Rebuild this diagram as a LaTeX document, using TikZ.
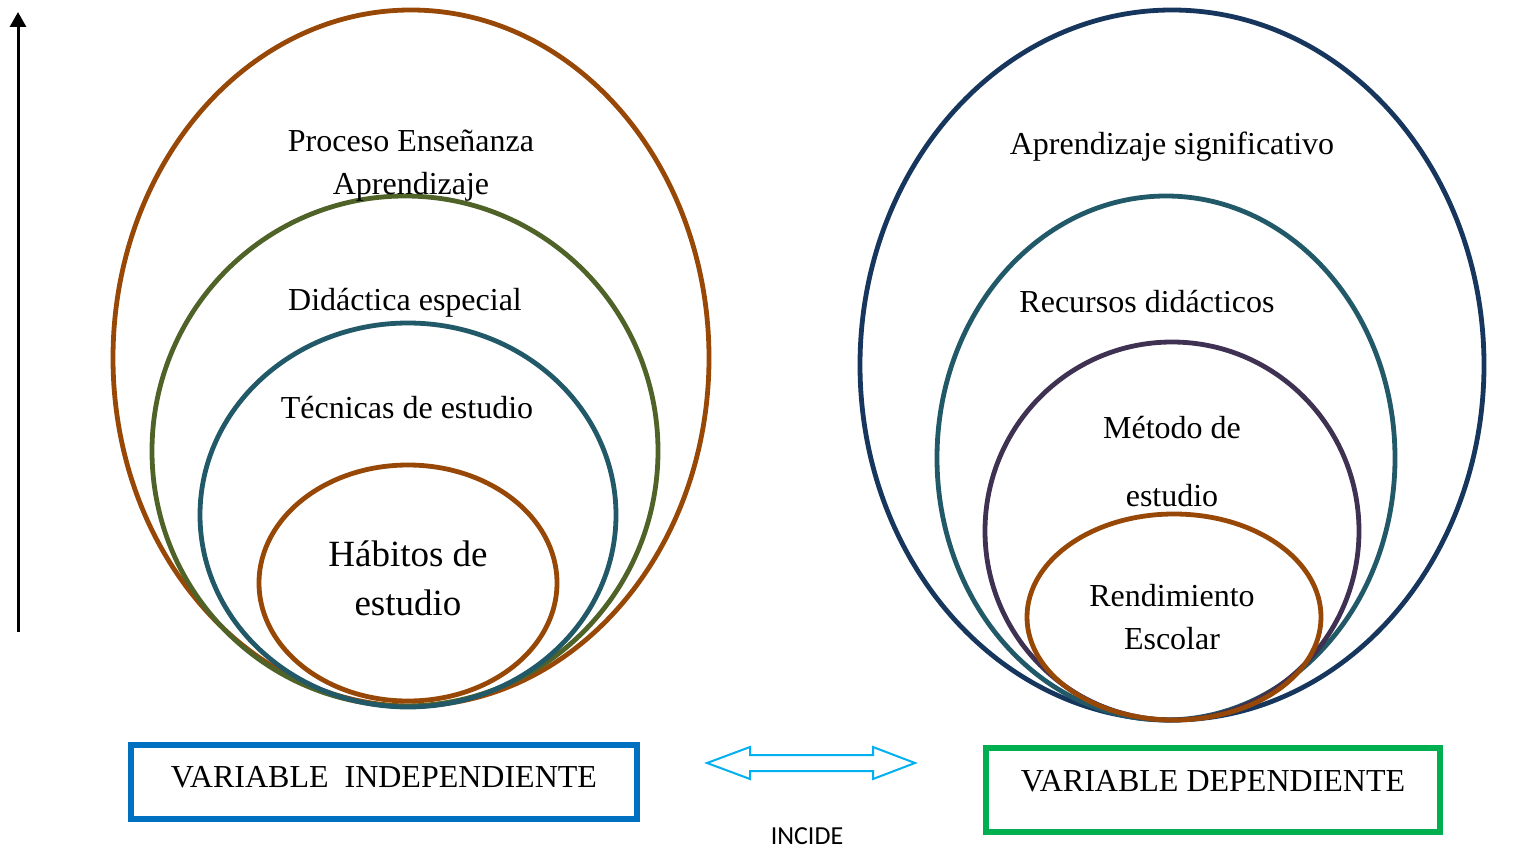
\documentclass[tikz,border=0pt]{standalone}
\usepackage{fontspec}
\setmainfont{Liberation Serif}
\newfontfamily\calib{Carlito}
\usetikzlibrary{arrows.meta}
\definecolor{cbrown}{HTML}{984806}
\definecolor{colive}{HTML}{4F6228}
\definecolor{cteal}{HTML}{215968}
\definecolor{cnavy}{HTML}{17365D}
\definecolor{cpurple}{HTML}{3F3151}
\definecolor{cblue}{HTML}{0070C0}
\definecolor{cgreen}{HTML}{00B050}
\definecolor{csky}{HTML}{00B0F0}
\tikzset{
  ring/.style={line width=4.8pt},
  lbl/.style={anchor=base, inner sep=0pt, font=\fontsize{32}{38}\selectfont},
  biglbl/.style={anchor=base, inner sep=0pt, font=\fontsize{37}{44}\selectfont},
  varbox/.style={draw, line width=5.5pt, inner sep=0pt},
}
\begin{document}
\begin{tikzpicture}[x=1pt,y=-1pt]
\useasboundingbox (0,0) rectangle (1526,848);
% left arrow
\coordinate (a0) at (18,632);
\coordinate (a1) at (18,12);
\draw[line width=3pt,-{Triangle[width=16pt,length=15pt]}] (a0) -- (a1);
% left ellipses
\draw[ring,cbrown] (411,358) ellipse [x radius=298pt, y radius=348pt];
\draw[ring,colive] (405,451) ellipse [x radius=253pt, y radius=255pt];
\draw[ring,cteal] (408,515) ellipse [x radius=208pt, y radius=192pt];
\draw[ring,cbrown] (408,583) ellipse [x radius=149pt, y radius=118pt];
% right ellipses
\draw[ring,cnavy] (1172,365) ellipse [x radius=312pt, y radius=355pt];
\draw[ring,cteal] (1166,458) ellipse [x radius=229pt, y radius=262pt];
\draw[ring,cpurple] (1172,531) ellipse [x radius=187pt, y radius=189pt];
\draw[ring,cbrown] (1174,617) ellipse [x radius=147pt, y radius=103pt];
% left texts
\node[lbl] (t1) at (411,152) {Proceso Enseñanza};
\node[lbl] (t2) at (411,194) {Aprendizaje};
\node[lbl] (t3) at (405,310) {Didáctica especial};
\node[lbl] (t4) at (407,418) {Técnicas de estudio};
\node[biglbl] (t5) at (408,566) {Hábitos de};
\node[biglbl] (t6) at (408,615) {estudio};
% right texts
\node[lbl] (r1) at (1172,154) {Aprendizaje significativo};
\node[lbl] (r2) at (1147,312) {Recursos didácticos};
\node[lbl] (r3) at (1172,438) {Método de};
\node[lbl] (r4) at (1172,506) {estudio};
\node[lbl] (r5) at (1172,606) {Rendimiento};
\node[lbl] (r6) at (1172,649) {Escolar};
% boxes
\node[varbox,cblue,minimum width=506pt,minimum height=74pt] (vi) at (384,782) {};
\node[lbl] (vit) at (384,787) {VARIABLE\ \ INDEPENDIENTE};
\node[varbox,cgreen,minimum width=454pt,minimum height=84pt] (vd) at (1213,790) {};
\node[lbl] (vdt) at (1213,791) {VARIABLE DEPENDIENTE};
% double arrow
\coordinate (d1) at (707,763);
\coordinate (d2) at (750,747);
\coordinate (d3) at (750,755);
\coordinate (d4) at (873,755);
\coordinate (d5) at (873,747);
\coordinate (d6) at (915,763);
\coordinate (d7) at (873,779);
\coordinate (d8) at (873,771);
\coordinate (d9) at (750,771);
\coordinate (d10) at (750,779);
\draw[csky,line width=2pt,line join=miter,fill=white] (d1) -- (d2) -- (d3) -- (d4) -- (d5) -- (d6) -- (d7) -- (d8) -- (d9) -- (d10) -- cycle;
\node[anchor=base,inner sep=0pt,font=\calib\fontsize{26}{31}\selectfont] (inc) at (807,844) {INCIDE};
\end{tikzpicture}
\end{document}
